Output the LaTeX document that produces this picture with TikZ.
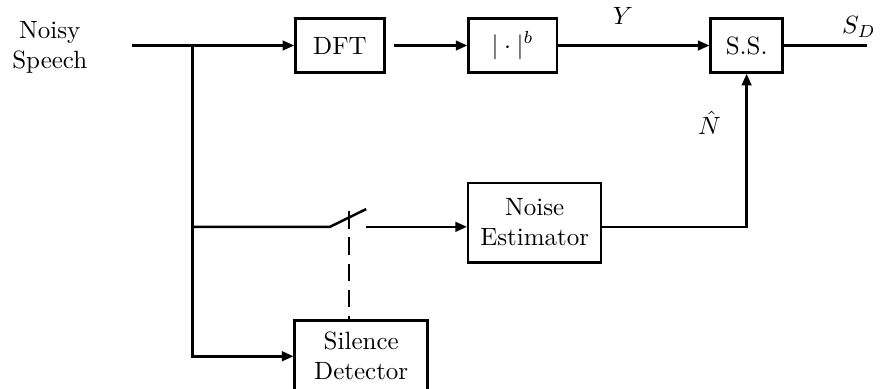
\documentclass[tikz,border=0pt]{standalone}
\usetikzlibrary{arrows.meta}
\begin{document}
\begin{tikzpicture}[line width=1pt,>={Triangle[length=4.6pt,width=3.8pt]},
  blk/.style={draw,line width=1pt,inner sep=0pt,minimum height=0.76cm,align=center}]
\useasboundingbox (0,0) rectangle (12.39,-5.47);

\node[blk,minimum width=1.25cm] (dft) at (4.78,-0.64) {DFT};
\node[blk,minimum width=1.24cm] (pow) at (7.21,-0.64) {$|\cdot|^b$};
\node[blk,minimum width=1.01cm] (ss) at (10.5,-0.64) {S.S.};
\node[blk,minimum width=1.87cm,minimum height=1.12cm] (noise) at (7.52,-3.13) {Noise\\Estimator};
\node[blk,minimum width=1.87cm,minimum height=1.01cm] (sil) at (5.08,-5.01) {Silence\\Detector};

\node[align=center] (speech) at (0.70,-0.66) {Noisy\\Speech};
\node (ylab) at (8.76,-0.23) {$Y$};
\node[inner sep=1pt] (nlab) at (9.98,-1.73) {$\hat{N}$};
\node (sdlab) at (12.08,-0.38) {$S_D$};

\coordinate (in) at (1.86,-0.64);
\coordinate (br) at (2.71,-0.64);
\coordinate (out) at (12.19,-0.64);
\coordinate (sw1) at (4.64,-3.19);
\coordinate (sw2) at (5.15,-3.19);
\coordinate (swtip) at (5.15,-2.94);
\coordinate (dtop) at (4.91,-2.97);

% upper path
\draw[->] (in) -- (dft.west);
\draw[->,shorten <=3.4pt] (dft.east) -- (pow.west);
\draw[->] (pow.east) -- (ss.west);
\draw (ss.east) -- (out);

% branch, switch and noise path
\draw[->] (br) |- (sil.west);
\draw (br |- sw1) -- (sw1) -- (swtip);
\draw[->] (sw2) -- (sw2 -| noise.west);
\draw[->] (noise.east |- sw2) -| (ss.south);
\draw[dash pattern=on 7pt off 3.5pt] (dtop) -- (dtop |- sil.north);
\end{tikzpicture}
\end{document}
